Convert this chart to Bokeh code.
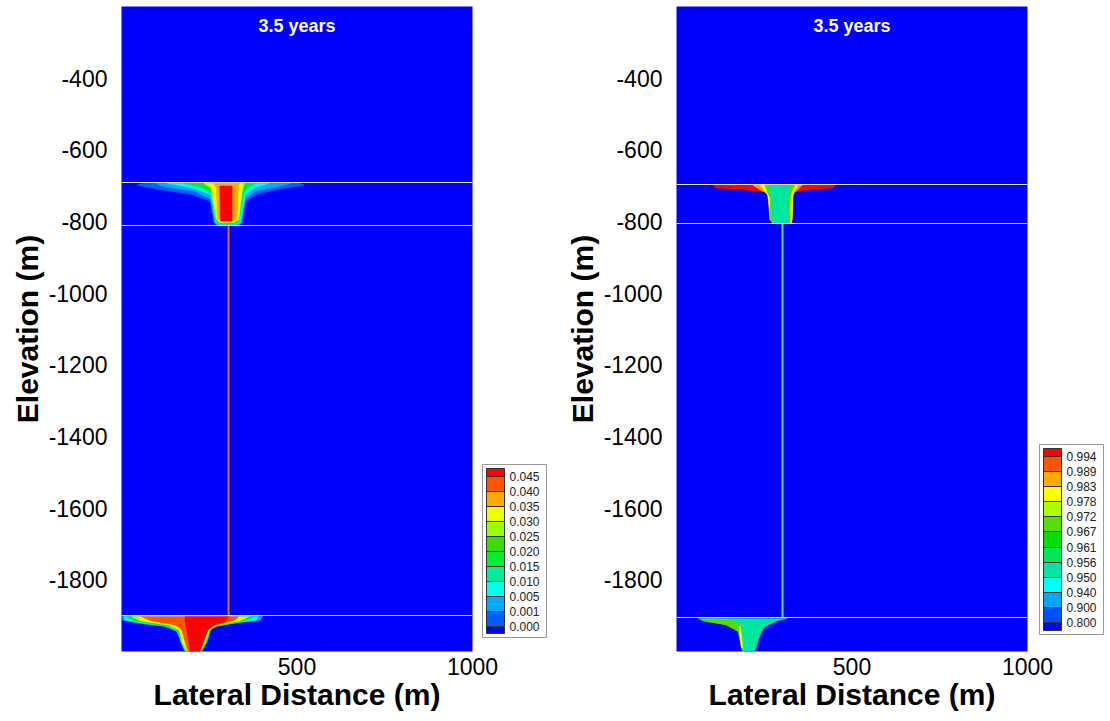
from bokeh.plotting import figure
from bokeh.layouts import row
from bokeh.models import (Range1d, FixedTicker, ColorBar, LinearColorMapper, Label,
                          ColumnDataSource)
from bokeh.embed import file_html
from bokeh.resources import INLINE

FONT = "Liberation Sans"

X_RANGE = (0, 1000)
Y_RANGE = (-2000, -200)
X_TICKS = [500, 1000]
Y_TICKS = [-400, -600, -800, -1000, -1200, -1400, -1600, -1800]
TITLE = "3.5 years"
X_LABEL = "Lateral Distance (m)"
Y_LABEL = "Elevation (m)"

# ---------------- left panel (mass fraction) ----------------
LEFT_LABELS = ["0.000", "0.001", "0.005", "0.010", "0.015", "0.020",
               "0.025", "0.030", "0.035", "0.040", "0.045"]
LEFT_COLORS = ["#0000FF", "#0060FF", "#00AAFF", "#00FFEE", "#00EE99", "#00EE33",
               "#33DD00", "#99FF00", "#EEFF00", "#FFAA00", "#FF5500", "#FF0000"]
LEFT_LAYERS = [-690, -812, -1900]
LEFT_WELL_X = 305
LEFT_WELL_COLOR = "#D2741E"

# contour bands: (colour index, [(elevation, left x, right x), ...])
LEFT_UPPER = [
    (1, [(-692, 64, 505), (-699, 43, 521), (-710, 102, 444), (-724, 197, 387),
         (-743, 252, 353), (-803, 263, 344), (-811, 274, 334)]),
    (2, [(-693, 97, 482), (-703, 121, 444), (-715, 206, 382), (-738, 254, 353),
         (-803, 265, 342), (-811, 274, 331)]),
    (3, [(-693, 130, 420), (-706, 200, 380), (-724, 254, 353), (-802, 268, 339),
         (-808, 277, 328)]),
    (5, [(-693, 180, 385), (-706, 230, 358), (-724, 258, 348), (-800, 270, 334),
         (-806, 280, 326)]),
    (8, [(-694, 235, 350), (-706, 255, 345), (-794, 271, 334), (-803, 280, 322)]),
    (9, [(-694, 262, 335), (-706, 270, 333), (-794, 274, 328)]),
    (11, [(-701, 280, 315), (-799, 282, 315)]),
]
LEFT_LOWER = [
    (2, [(-1902, 3, 402), (-1912, 3, 395), (-1921, 49, 319), (-1930, 124, 262),
         (-1944, 158, 253), (-1967, 167, 246), (-1986, 174, 237), (-2001, 182, 227)]),
    (3, [(-1902, 7, 390), (-1912, 10, 383), (-1921, 62, 314), (-1930, 132, 260),
         (-1944, 160, 251), (-1967, 168, 244), (-1986, 176, 236), (-2001, 183, 226)]),
    (5, [(-1903, 14, 378), (-1914, 36, 350), (-1923, 90, 308), (-1932, 145, 258),
         (-1949, 163, 248), (-1977, 171, 240), (-2001, 185, 225)]),
    (8, [(-1903, 30, 362), (-1914, 53, 338), (-1926, 134, 276), (-1940, 164, 250),
         (-1977, 174, 238), (-2001, 187, 224)]),
    (10, [(-1903, 58, 334), (-1914, 82, 320), (-1926, 153, 267), (-1940, 172, 246),
          (-2001, 189, 223)]),
    (11, [(-1903, 181, 305), (-1916, 181, 295), (-1926, 184, 262), (-1940, 186, 246),
          (-1967, 191, 235), (-2001, 196, 223)]),
]

# ---------------- right panel (saturation) ----------------
RIGHT_LABELS = ["0.800", "0.900", "0.940", "0.950", "0.956", "0.961", "0.967",
                "0.972", "0.978", "0.983", "0.989", "0.994"]
RIGHT_COLORS = ["#0000FF", "#0050FF", "#00A8FF", "#00FFFF", "#00E6A0", "#00E655",
                "#00DD00", "#55DD00", "#AAFF00", "#FFFF00", "#FFAA00", "#FF5500",
                "#FF0000"]
RIGHT_LAYERS = [-696, -806, -1906]
RIGHT_WELL_X = 302
RIGHT_WELL_COLOR = "#50E0D0"

RIGHT_UPPER = [
    (12, [(-698, 105, 453), (-706, 112, 446), (-711, 190, 380), (-716, 240, 340)]),
    (10, [(-698, 218, 358), (-708, 232, 348), (-720, 255, 335), (-735, 265, 330),
          (-795, 266, 330), (-805, 277, 327)]),
    (9, [(-698, 240, 345), (-712, 250, 338), (-725, 260, 332), (-795, 267, 329),
         (-805, 277, 326)]),
    (7, [(-698, 252, 338), (-716, 258, 328), (-735, 267, 324), (-795, 268, 323),
         (-805, 278, 322)]),
    (4, [(-698, 262, 325), (-716, 266, 320), (-744, 270, 318), (-795, 270, 319),
         (-805, 279, 319)]),
]
RIGHT_LOWER = [
    (4, [(-1908, 62, 314), (-1915, 76, 285), (-1922, 124, 271), (-1931, 162, 252),
         (-1945, 176, 242), (-1968, 181, 233), (-1987, 185, 228), (-2002, 190, 220)]),
    (7, [(-1909, 71, 150), (-1916, 86, 168), (-1925, 140, 178), (-1945, 177, 184),
         (-1982, 184, 189), (-2002, 190, 193)]),
    (9, [(-1930, 178, 182), (-1990, 185, 189)]),
]


def draw_bands(p, bands, colors):
    xs, ys, cs = [], [], []
    for idx, rows in bands:
        el = [r[0] for r in rows]
        lx = [r[1] for r in rows]
        rx = [r[2] for r in rows]
        xs.append(lx + rx[::-1])
        ys.append(el + el[::-1])
        cs.append(colors[idx])
    src = ColumnDataSource(dict(xs=xs, ys=ys, c=cs))
    p.patches("xs", "ys", source=src, fill_color="c", line_color="c", line_width=0.6)


def make_legend(colors, labels, bar_height, loc):
    pal = [colors[0]] + [c for c in colors[1:-1] for _ in (0, 1)] + [colors[-1]]
    n = len(labels)
    mapper = LinearColorMapper(palette=pal, low=0, high=n)
    ticks = [i + 0.5 for i in range(n)]
    cb = ColorBar(color_mapper=mapper, ticker=FixedTicker(ticks=ticks),
                  major_label_overrides={t: lab for t, lab in zip(ticks, labels)},
                  orientation="vertical", width=18, height=bar_height,
                  padding=4, label_standoff=5, location=loc,
                  major_label_text_font=FONT, major_label_text_font_size="12px",
                  major_label_text_color="#222222",
                  major_tick_in=18, major_tick_out=0,
                  major_tick_line_color="#333333", bar_line_color="#333333",
                  border_line_color="#999999", background_fill_color="white")
    return cb


def make_panel(bands_up, bands_low, colors, labels, layers, well_x, well_color,
               bar_height, legend_loc, right_border):
    p = figure(frame_width=351, frame_height=645, x_range=Range1d(*X_RANGE),
               y_range=Range1d(*Y_RANGE), output_backend="svg", toolbar_location=None,
               min_border_left=121, min_border_top=6, min_border_right=right_border,
               min_border_bottom=10)
    p.background_fill_color = "#0000FF"
    p.border_fill_color = "white"
    p.outline_line_color = None
    p.grid.visible = False

    draw_bands(p, bands_up, colors)
    draw_bands(p, bands_low, colors)
    p.segment(x0=[well_x], y0=[layers[1]], x1=[well_x], y1=[layers[2]],
              line_color=well_color, line_width=2)
    p.hspan(y=layers, line_color="#E2E2E2", line_width=1)

    p.add_layout(Label(x=500, y=-255, text=TITLE, text_color="white",
                       text_font=FONT, text_font_style="bold", text_font_size="18px",
                       text_align="center", text_baseline="middle"))

    p.xaxis.ticker = FixedTicker(ticks=X_TICKS)
    p.yaxis.ticker = FixedTicker(ticks=Y_TICKS)
    p.yaxis.major_label_overrides = {t: "%d" % t for t in Y_TICKS}
    p.xaxis.axis_label = X_LABEL
    p.yaxis.axis_label = Y_LABEL
    for ax in (p.xaxis, p.yaxis):
        ax.axis_line_color = None
        ax.major_tick_line_color = None
        ax.minor_tick_line_color = None
        ax.major_tick_out = 0
        ax.major_tick_in = 0
        ax.major_label_text_font = FONT
        ax.major_label_text_font_size = "23px"
        ax.major_label_text_color = "black"
        ax.axis_label_text_font = FONT
        ax.axis_label_text_font_size = "30px"
        ax.axis_label_text_font_style = "bold"
        ax.axis_label_text_color = "black"
    p.xaxis.major_label_standoff = 6
    p.xaxis.axis_label_standoff = 0
    p.yaxis.major_label_standoff = 14
    p.yaxis.axis_label_standoff = 2

    p.add_layout(make_legend(colors, labels, bar_height, legend_loc))
    return p


p1 = make_panel(LEFT_UPPER, LEFT_LOWER, LEFT_COLORS, LEFT_LABELS, LEFT_LAYERS,
                LEFT_WELL_X, LEFT_WELL_COLOR, 165, (361, 14), 83)
p2 = make_panel(RIGHT_UPPER, RIGHT_LOWER, RIGHT_COLORS, RIGHT_LABELS, RIGHT_LAYERS,
                RIGHT_WELL_X, RIGHT_WELL_COLOR, 182, (363, 17), 81)

layout = row(p1, p2)
open("out.html", "w").write(file_html(layout, INLINE))
